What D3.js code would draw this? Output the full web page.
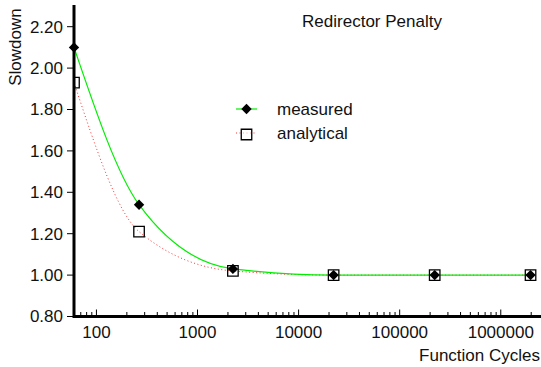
<!DOCTYPE html>
<html>
<head>
<meta charset="utf-8">
<script src="https://cdn.jsdelivr.net/npm/d3@7"></script>
<style>
  body { margin: 0; background: #fff; }
  text { font-family: "Liberation Sans", Arial, sans-serif; fill: #111; }
</style>
</head>
<body>
<div id="chart"></div>
<script>
// function cycles (x) and slowdown values
var cycles = [60, 264, 2240, 22200, 222000, 1970000];
var measured = [2.10, 1.34, 1.03, 1.00, 1.00, 1.00];
var analytical = [1.93, 1.21, 1.02, 1.00, 1.00, 1.00];
var yTicks = [0.8, 1.0, 1.2, 1.4, 1.6, 1.8, 2.0, 2.2];
var xTicks = [100, 1000, 10000, 100000, 1000000];
var seriesNames = ["measured", "analytical"];

var width = 541, height = 367;

var svg = d3.select("#chart")
  .append("svg")
  .attr("width", width)
  .attr("height", height);

var x = d3.scaleLog()
  .domain([60, 2500000])
  .range([74, 541]);

var y = d3.scaleLinear()
  .domain([0.8, 2.3])
  .range([316.5, 6]);

svg.append("clipPath")
  .attr("id", "plot")
  .append("rect")
  .attr("x", 74).attr("y", 0)
  .attr("width", width - 74).attr("height", 317);

// minor ticks on x (2..9 per decade)
var minor = [];
[10, 100, 1000, 10000, 100000, 1000000].forEach(function(d) {
  for (var k = 2; k <= 9; k++) {
    var v = d * k;
    if (v > 60 && v < 2500000 && xTicks.indexOf(v) < 0) minor.push(v);
  }
});

svg.append("g")
  .selectAll("line.minor")
  .data(minor)
  .enter()
  .append("line")
  .attr("x1", d => x(d)).attr("x2", d => x(d))
  .attr("y1", 316.5).attr("y2", 312)
  .attr("stroke", "#000").attr("stroke-width", 1);

svg.append("g")
  .selectAll("line.major")
  .data(xTicks)
  .enter()
  .append("line")
  .attr("x1", d => x(d)).attr("x2", d => x(d))
  .attr("y1", 316.5).attr("y2", 309.5)
  .attr("stroke", "#000").attr("stroke-width", 1);

svg.append("g")
  .selectAll("text")
  .data(xTicks)
  .enter()
  .append("text")
  .attr("x", d => x(d))
  .attr("y", 338)
  .attr("text-anchor", "middle")
  .style("font-size", "17px")
  .text(d => d);

// y ticks, outward
svg.append("g")
  .selectAll("line")
  .data(yTicks)
  .enter()
  .append("line")
  .attr("x1", 67).attr("x2", 74)
  .attr("y1", d => y(d)).attr("y2", d => y(d))
  .attr("stroke", "#000").attr("stroke-width", 1);

svg.append("g")
  .selectAll("text")
  .data(yTicks)
  .enter()
  .append("text")
  .attr("x", 63)
  .attr("y", d => y(d))
  .attr("dy", "0.35em")
  .attr("text-anchor", "end")
  .style("font-size", "17px")
  .text(d => d3.format(".2f")(d));

// labels
svg.append("text")
  .attr("transform", "translate(21,47) rotate(-90)")
  .attr("text-anchor", "middle")
  .style("font-size", "17px")
  .text("Slowdown");

svg.append("text")
  .attr("x", 540).attr("y", 361)
  .attr("text-anchor", "end")
  .style("font-size", "17px")
  .text("Function Cycles");

svg.append("text")
  .attr("x", 372).attr("y", 27)
  .attr("text-anchor", "middle")
  .style("font-size", "17px")
  .text("Redirector Penalty");

var line = d3.line()
  .curve(d3.curveMonotoneX)
  .x((d, i) => x(cycles[i]))
  .y(d => y(d));

svg.append("path")
  .datum(analytical)
  .attr("fill", "none")
  .attr("stroke", "#ff3030")
  .attr("stroke-width", 1)
  .attr("stroke-dasharray", "1,2.5")
  .attr("d", line);

svg.append("path")
  .datum(measured)
  .attr("fill", "none")
  .attr("stroke", "#00ee00")
  .attr("stroke-width", 1.2)
  .attr("d", line);

var square = d3.symbol().type(d3.symbolSquare).size(110);
var diamond = d3.symbol().type(d3.symbolSquare).size(54);

svg.append("g")
  .attr("clip-path", "url(#plot)")
  .selectAll("path")
  .data(analytical)
  .enter()
  .append("path")
  .attr("transform", (d, i) => "translate(" + x(cycles[i]) + "," + y(d) + ")")
  .attr("d", square)
  .attr("fill", "none")
  .attr("stroke", "#000")
  .attr("stroke-width", 1.3);

// axis lines
svg.append("line")
  .attr("x1", 74).attr("x2", 74).attr("y1", 5).attr("y2", 318)
  .attr("stroke", "#000").attr("stroke-width", 3);
svg.append("line")
  .attr("x1", 73).attr("x2", 541).attr("y1", 316.5).attr("y2", 316.5)
  .attr("stroke", "#000").attr("stroke-width", 3);

svg.append("g")
  .selectAll("path")
  .data(measured)
  .enter()
  .append("path")
  .attr("transform", (d, i) => "translate(" + x(cycles[i]) + "," + y(d) + ") rotate(45)")
  .attr("d", diamond)
  .attr("fill", "#000");

// legend
var legend = svg.append("g");
var legendY = [109, 133];
legend.append("line")
  .attr("x1", 236).attr("x2", 257).attr("y1", legendY[0]).attr("y2", legendY[0])
  .attr("stroke", "#00ee00").attr("stroke-width", 1.2);
legend.append("path")
  .attr("transform", "translate(246.5," + legendY[0] + ") rotate(45)")
  .attr("d", diamond).attr("fill", "#000");
legend.append("line")
  .attr("x1", 236).attr("x2", 257).attr("y1", legendY[1]).attr("y2", legendY[1])
  .attr("stroke", "#ff3030").attr("stroke-width", 1).attr("stroke-dasharray", "1,2.5");
legend.append("path")
  .attr("transform", "translate(246.5," + (legendY[1] + 1.5) + ")")
  .attr("d", square).attr("fill", "#fff").attr("fill-opacity", 0.6)
  .attr("stroke", "#000").attr("stroke-width", 1.3);
legend.selectAll("text")
  .data(seriesNames)
  .enter()
  .append("text")
  .attr("x", 277)
  .attr("y", (d, i) => legendY[i] + 6)
  .style("font-size", "17px")
  .text(d => d);
</script>
</body>
</html>
